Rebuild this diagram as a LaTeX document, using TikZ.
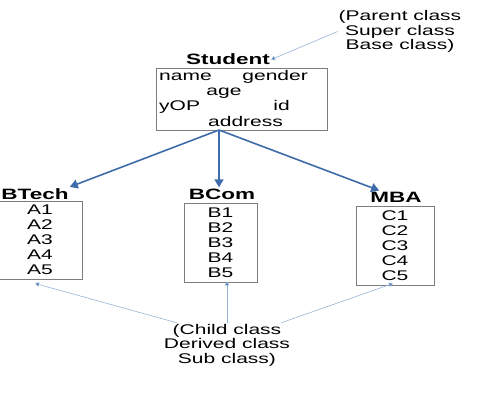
\documentclass[tikz,border=0pt]{standalone}
\usepackage{fontspec}
\setmainfont{Liberation Sans}[FakeStretch=1.5]
\usetikzlibrary{arrows.meta, positioning}

\definecolor{arrblue}{RGB}{62,108,170}
\definecolor{thinblue}{RGB}{150,180,215}
\definecolor{boxgray}{RGB}{125,125,125}

\tikzset{
  cbox/.style={draw=boxgray, line width=0.9pt, inner sep=0pt, align=center,
    font=\fontsize{14}{15}\selectfont},
  ctitle/.style={font=\fontsize{15}{17}\selectfont\bfseries, inner sep=1pt, anchor=base},
  txt/.style={font=\fontsize{14}{14.5}\selectfont, inner sep=1pt, align=center},
  field/.style={font=\fontsize{14}{14}\selectfont, inner sep=0pt},
  inh/.style={draw=arrblue, line width=1.6pt, -{Triangle[length=8pt,width=9pt]}},
  note/.style={draw=thinblue, line width=0.6pt, -{Triangle[length=4pt,width=4.5pt,fill=arrblue]}}
}

\begin{document}
\begin{tikzpicture}[x=1pt, y=-1pt]
        \useasboundingbox (0,0) rectangle (500,414);
        % Parent class
        \node[txt] (par) at (400,31.5) {(Parent class\\Super class\\Base class)};
        \node[ctitle] (stuT) at (228,65) {Student};
        \node[cbox, minimum width=171pt, minimum height=62pt] (stu) at (241.5,99) {};
        \node[field, anchor=base west] (nm) at (159,81) {name};
        \node[field, anchor=base east] (gen) at (308,81) {gender};
        \node[field, anchor=base] (ag) at (224,96) {age};
        \node[field, anchor=base west] (yop) at (159,111) {yOP};
        \node[field, anchor=base east] (idn) at (290,111) {id};
        \node[field, anchor=base] (addr) at (245.5,127) {address};
        \coordinate (hub) at (219,130);
        % Child classes
        \node[ctitle] (btechT) at (35,199) {BTech};
        \node[cbox, minimum width=84pt, minimum height=78pt] (btech) at (40,240) {A1\\A2\\A3\\A4\\A5};
        \node[ctitle] (bcomT) at (222,199) {BCom};
        \node[cbox, minimum width=73pt, minimum height=79pt] (bcom) at (220.5,242.5) {B1\\B2\\B3\\B4\\B5};
        \node[ctitle] (mbaT) at (396,202) {MBA};
        \node[cbox, minimum width=78pt, minimum height=79pt] (mba) at (395,245.5) {C1\\C2\\C3\\C4\\C5};
        \node[txt] (chd) at (227,345) {(Child class\\Derived class\\Sub class)};
        % Arrows
        \draw[note] (par.west) -- (stuT.east);
        \draw[inh] (hub) -- (btechT.north east);
        \draw[inh] (hub) -- (hub |- bcomT.north);
        \draw[inh] (hub) -- ([xshift=10pt]mbaT.north west);
        \draw[note] ([xshift=14pt]chd.north west) -- ([shift={(-5,4)}]btech.south);
        \draw[note] (chd.north) -- ([yshift=1pt]chd.north |- bcom.south);
        \draw[note] ([xshift=-10pt]chd.north east) -- ([shift={(-2,-2)}]mba.south);
\end{tikzpicture}
\end{document}
